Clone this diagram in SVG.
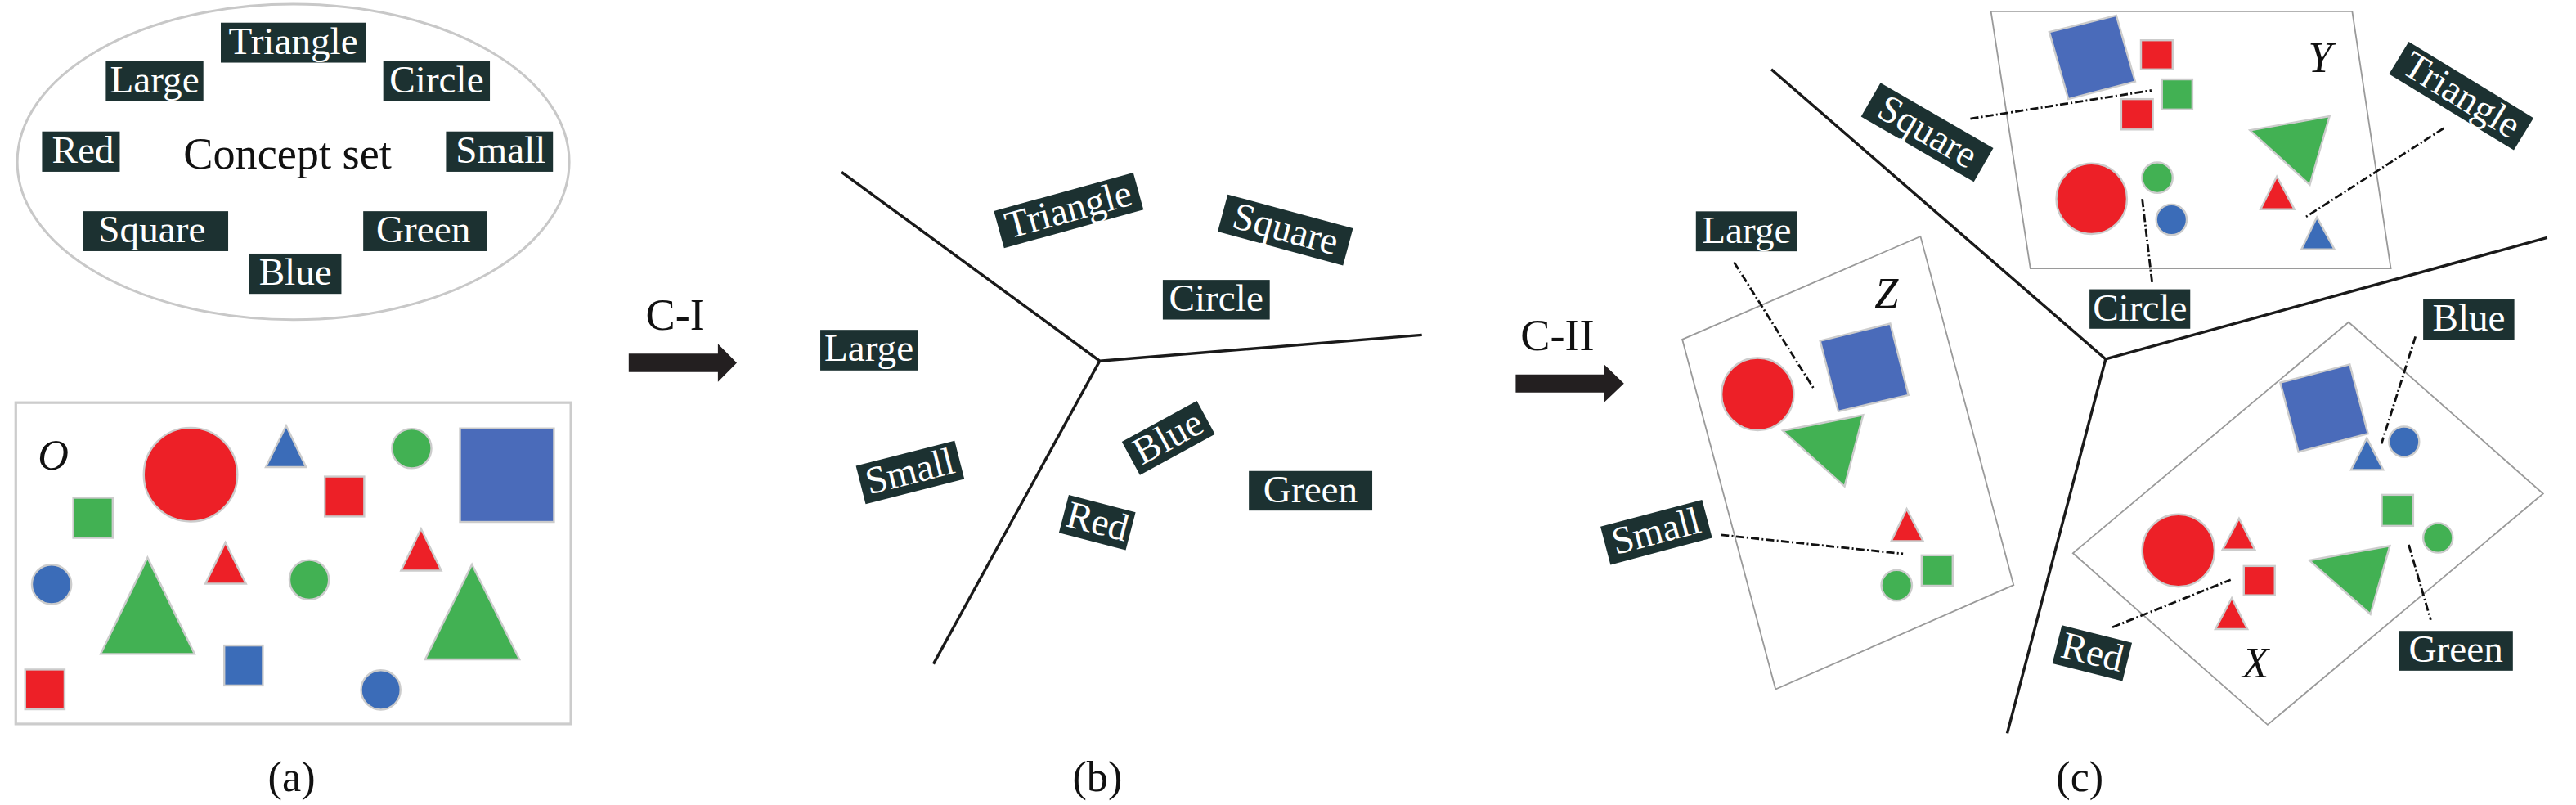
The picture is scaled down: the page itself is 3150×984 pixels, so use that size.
<svg xmlns="http://www.w3.org/2000/svg" width="3150" height="984" viewBox="0 0 3150 984">
<defs>
<style>
.lbl rect{fill:#1c3131}
.lbl text{fill:#fff;font-family:"Liberation Serif","Times New Roman",serif;font-size:23.5px;text-anchor:middle}
.sh{stroke:#cccccc;stroke-width:1.2}
.r{fill:#ed2027}.g{fill:#42b153}.b{fill:#3b6cb8}.bb{fill:#4a6bba}
.div{stroke:#1a1a1a;stroke-width:1.7;fill:none}
.conn{stroke:#111;stroke-width:1.4;fill:none;stroke-dasharray:5 1.6 1 1.6}
.pan{fill:#fff;stroke:#9a9a9a;stroke-width:0.9}
.it{font-family:"Liberation Serif","Times New Roman",serif;font-style:italic;font-size:26px;fill:#111}
.tx{font-family:"Liberation Serif","Times New Roman",serif;fill:#111}
.cap{font-family:"Liberation Serif","Times New Roman",serif;fill:#111;font-size:26px;text-anchor:middle}
.arr{fill:#231f20}
</style>
</defs>
<rect width="3150" height="984" fill="#fff"/>
<g transform="scale(2.0089)">
<!-- Panel (a) -->
<g id="concept-set">
<ellipse cx="178.5" cy="98.5" rx="168" ry="96" fill="#fff" stroke="#c8c8c8" stroke-width="1.5"/>
<text class="tx" x="175" y="102.5" font-size="27" text-anchor="middle">Concept set</text>
</g>
<g id="a-triangle" class="lbl"><rect x="134.4" y="13.8" width="88.2" height="24.3"/><text x="178.5" y="32.8">Triangle</text></g>
<g id="a-large" class="lbl"><rect x="64.4" y="37" width="59.4" height="24.3"/><text x="94.1" y="56.3">Large</text></g>
<g id="a-circle" class="lbl"><rect x="233.3" y="37" width="64.9" height="24.3"/><text x="265.8" y="56.3">Circle</text></g>
<g id="a-red" class="lbl"><rect x="25.6" y="80" width="47.3" height="24.5"/><text x="50.5" y="99">Red</text></g>
<g id="a-small" class="lbl"><rect x="271.5" y="80" width="65.1" height="24.5"/><text x="304.8" y="99">Small</text></g>
<g id="a-square" class="lbl"><rect x="50.4" y="128.5" width="88.5" height="24.3"/><text x="92.5" y="147.5">Square</text></g>
<g id="a-green" class="lbl"><rect x="221.1" y="128.5" width="75.1" height="24.3"/><text x="257.7" y="147.5">Green</text></g>
<g id="a-blue" class="lbl"><rect x="151.8" y="154.3" width="56" height="24.5"/><text x="179.8" y="173.3">Blue</text></g>

<g id="set-O">
<rect x="9.6" y="245" width="337.9" height="195.5" fill="#fff" stroke="#cccccc" stroke-width="1.6"/>
<text class="it" x="23" y="285.8" font-size="27">O</text>
<circle class="sh r" cx="116" cy="288.8" r="28.5"/>
<polygon class="sh b" points="174.2,259.1 186.3,284.2 161.8,284.2"/>
<circle class="sh g" cx="250.6" cy="272.9" r="12"/>
<rect class="sh bb" x="280" y="260.7" width="57.2" height="56.9"/>
<rect class="sh r" x="197.7" y="290" width="24" height="24.3"/>
<rect class="sh g" x="44.6" y="302.9" width="24" height="24.4"/>
<polygon class="sh r" points="137.2,330.1 149.7,355.2 125,355.2"/>
<polygon class="sh r" points="256.3,321.8 268.6,347.2 244.1,347.2"/>
<circle class="sh b" cx="31.4" cy="355.6" r="12"/>
<polygon class="sh g" points="89.8,339.3 118.4,397.9 61.3,397.9"/>
<circle class="sh g" cx="188.2" cy="352.8" r="12"/>
<polygon class="sh g" points="287.3,343.5 316.2,401.2 258.8,401.2"/>
<rect class="sh b" x="136.5" y="392.8" width="23.5" height="24.3"/>
<rect class="sh r" x="15.3" y="407.4" width="24" height="24.2"/>
<circle class="sh b" cx="231.8" cy="419.8" r="12"/>
</g>
<text class="cap" x="177.5" y="481.5">(a)</text>

<!-- Arrow C-I -->
<g id="arrow-CI">
<text class="tx" x="411" y="200.8" font-size="27" text-anchor="middle">C-I</text>
<polygon class="arr" points="382.7,215.2 437,215.2 437,209.2 448.5,220.8 437,232.4 437,226.4 382.7,226.4"/>
</g>

<!-- Panel (b) -->
<g id="b-dividers">
<polyline class="div" points="512.3,104.7 669.4,219.6 865.5,203.8"/>
<line class="div" x1="669.4" y1="219.6" x2="568.2" y2="404"/>
</g>
<g id="b-large" class="lbl"><rect x="499.3" y="200.7" width="59.3" height="24.7"/><text x="528.9" y="219.7">Large</text></g>
<g id="b-circle" class="lbl"><rect x="707.8" y="170.3" width="65.1" height="24.1"/><text x="740.3" y="189.3">Circle</text></g>
<g id="b-green" class="lbl"><rect x="760.2" y="286.6" width="75.1" height="24.1"/><text x="797.7" y="305.6">Green</text></g>
<g id="b-triangle" class="lbl" transform="translate(650.5,128) rotate(-15.4)"><rect x="-44" y="-11.7" width="88" height="23.4"/><text x="0" y="7">Triangle</text></g>
<g id="b-square" class="lbl" transform="translate(782.4,139.9) rotate(15.1)"><rect x="-39.5" y="-11.7" width="79" height="23.4"/><text x="0" y="7">Square</text></g>
<g id="b-blue" class="lbl" transform="translate(711.2,266.5) rotate(-28.6)"><rect x="-26" y="-11.5" width="52" height="23"/><text x="0" y="7">Blue</text></g>
<g id="b-small" class="lbl" transform="translate(554,287.5) rotate(-14.3)"><rect x="-31" y="-12" width="62" height="24"/><text x="0" y="7">Small</text></g>
<g id="b-red" class="lbl" transform="translate(667.9,318) rotate(14.6)"><rect x="-21" y="-11.9" width="42" height="23.8"/><text x="0" y="7">Red</text></g>
<text class="cap" x="668" y="481.5">(b)</text>

<!-- Arrow C-II -->
<g id="arrow-CII">
<text class="tx" x="948" y="213.2" font-size="27" text-anchor="middle">C-II</text>
<polygon class="arr" points="922.6,227.8 976.5,227.8 976.5,221.8 988.5,233.3 976.5,244.8 976.5,238.8 922.6,238.8"/>
</g>

<!-- Panel (c) -->
<g id="c-dividers">
<polyline class="div" points="1078.2,42.2 1281.7,218.5 1550.5,144.5"/>
<line class="div" x1="1281.7" y1="218.5" x2="1221.8" y2="446.2"/>
</g>

<g id="set-Y">
<polygon class="pan" points="1211.9,6.9 1431.8,6.9 1455.3,163.3 1235.9,163.3"/>
<text class="it" x="1405" y="43.8">Y</text>
<polygon class="sh bb" points="1247.4,19.5 1288.2,9.4 1299.7,49.6 1259,60.3"/>
<rect class="sh r" x="1303.2" y="24.5" width="19.3" height="17.7"/>
<rect class="sh g" x="1316" y="48.3" width="18.5" height="18.3"/>
<rect class="sh r" x="1291.2" y="60.3" width="19.3" height="18.5"/>
<polygon class="sh g" points="1369.6,79.3 1418,70.7 1406,112.4"/>
<circle class="sh r" cx="1273.2" cy="120.9" r="21.5"/>
<circle class="sh g" cx="1313.2" cy="108.1" r="9.3"/>
<circle class="sh b" cx="1321.8" cy="133.7" r="9.3"/>
<polygon class="sh r" points="1385.9,107.4 1396.6,127.3 1376,127.3"/>
<polygon class="sh b" points="1410.3,132.2 1421,151.7 1400.9,151.7"/>
</g>

<g id="set-Z">
<polygon class="pan" points="1024,206.5 1169,143.8 1225.7,356 1080.8,419.4"/>
<text class="it" x="1141" y="187.4">Z</text>
<circle class="sh r" cx="1069.9" cy="239.8" r="22"/>
<polygon class="sh bb" points="1107.9,207.4 1150.6,196.9 1161.7,240.4 1119,250.3"/>
<polygon class="sh g" points="1085.2,262.1 1134.1,252.5 1122.8,296"/>
<polygon class="sh r" points="1160.6,309.7 1170.6,329.3 1151.2,329.3"/>
<rect class="sh g" x="1169.7" y="337.9" width="18.9" height="18.5"/>
<circle class="sh g" cx="1154.5" cy="356.2" r="9.3"/>
</g>

<g id="set-X">
<polygon class="pan" points="1429.6,196 1548,300.4 1380.3,441 1261.8,336.6"/>
<text class="it" x="1365" y="412.2">X</text>
<polygon class="sh bb" points="1388,232.8 1430.3,221.7 1441.4,263.9 1399.1,275"/>
<polygon class="sh b" points="1440.7,266.6 1450.7,285.9 1431.1,285.9"/>
<circle class="sh b" cx="1463.4" cy="268.8" r="9.2"/>
<rect class="sh g" x="1449.8" y="301.1" width="19.1" height="18.9"/>
<circle class="sh g" cx="1484" cy="327.3" r="9"/>
<polygon class="sh g" points="1405.8,341 1454.7,332.2 1442.9,373.7"/>
<circle class="sh r" cx="1326" cy="335" r="22"/>
<polygon class="sh r" points="1362.9,315.5 1372.5,334.4 1352.9,334.4"/>
<rect class="sh r" x="1365.8" y="344.4" width="18.9" height="17.8"/>
<polygon class="sh r" points="1358.5,363.9 1368,382.8 1348.5,382.8"/>
</g>

<g id="connectors">
<line class="conn" x1="1055.5" y1="159.5" x2="1104.6" y2="237.3"/>
<line class="conn" x1="1047.5" y1="325.5" x2="1158.4" y2="337"/>
<line class="conn" x1="1199.4" y1="72.2" x2="1309.6" y2="55"/>
<line class="conn" x1="1487.5" y1="78" x2="1402.6" y2="132.6"/>
<line class="conn" x1="1304" y1="121" x2="1310" y2="171.9"/>
<line class="conn" x1="1470.3" y1="204.8" x2="1449.6" y2="270"/>
<line class="conn" x1="1466.2" y1="331.5" x2="1479.6" y2="377.3"/>
<line class="conn" x1="1285.8" y1="381.7" x2="1357.8" y2="352.8"/>
</g>

<g id="c-large" class="lbl"><rect x="1032.3" y="128.6" width="61.7" height="24.3"/><text x="1063.2" y="147.6">Large</text></g>
<g id="c-circle" class="lbl"><rect x="1271.9" y="176" width="61.3" height="24"/><text x="1302.6" y="195">Circle</text></g>
<g id="c-blue" class="lbl"><rect x="1475" y="182.2" width="55.5" height="24.5"/><text x="1502.8" y="201.2">Blue</text></g>
<g id="c-green" class="lbl"><rect x="1460.2" y="383.9" width="69.4" height="24.2"/><text x="1494.9" y="402.9">Green</text></g>
<g id="c-square" class="lbl" transform="translate(1173.1,80.6) rotate(30)"><rect x="-39.7" y="-11.9" width="79.3" height="23.7"/><text x="0" y="7">Square</text></g>
<g id="c-triangle" class="lbl" transform="translate(1498.2,58.4) rotate(31.4)"><rect x="-44.5" y="-11.5" width="89" height="23"/><text x="0" y="7">Triangle</text></g>
<g id="c-small" class="lbl" transform="translate(1008.2,323.9) rotate(-14.8)"><rect x="-32" y="-12" width="64" height="24"/><text x="0" y="7">Small</text></g>
<g id="c-red" class="lbl" transform="translate(1273.5,397.4) rotate(14)"><rect x="-22" y="-12" width="44" height="24"/><text x="0" y="7">Red</text></g>
<text class="cap" x="1266" y="481.5">(c)</text>
</g>
</svg>
